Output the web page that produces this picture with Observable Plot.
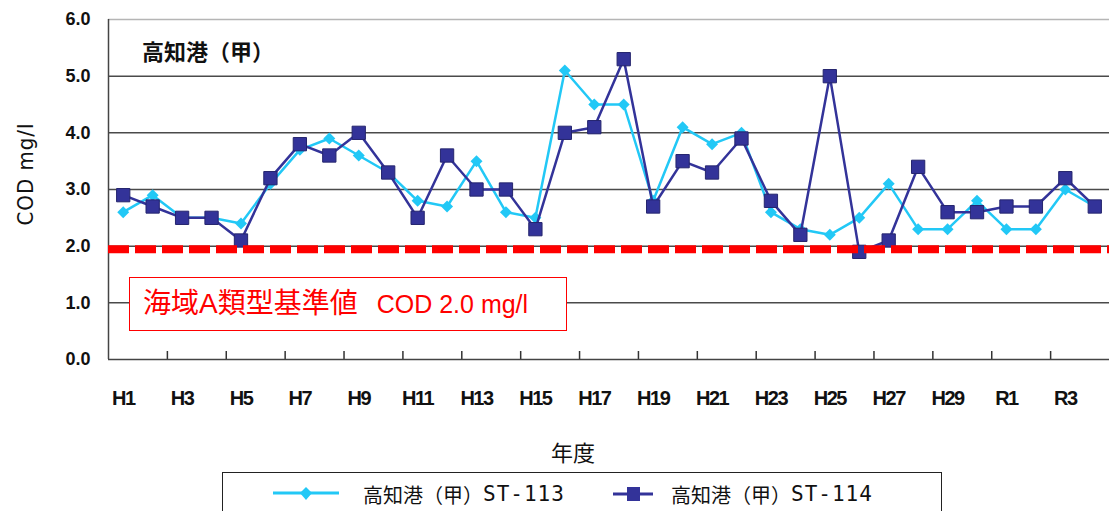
<!DOCTYPE html>
<html>
<head>
<meta charset="utf-8">
<script src="https://cdn.jsdelivr.net/npm/d3@7"></script>
<script src="https://cdn.jsdelivr.net/npm/@observablehq/plot@0.6"></script>
<style>
  body { margin: 0; background: #fff; }
  #wrap { position: relative; width: 1109px; height: 511px; overflow: hidden; background: #fff; font-family: "Noto Sans CJK JP", sans-serif; }
  #chart { position: absolute; left: 0; top: 0; }
  .cc g[aria-label="y-axis tick label"] text { font: bold 18px "Liberation Sans", Arial, sans-serif; }
  .cc g[aria-label="x-axis tick label"] text { font: bold 20px "Liberation Sans", Arial, sans-serif; letter-spacing: -1.5px; }
  #ylab { position: absolute; left: 26px; top: 174px; transform: translate(-50%, -50%) rotate(-90deg); font: 22px "DejaVu Sans Condensed", "DejaVu Sans", sans-serif; font-stretch: condensed; letter-spacing: 1px; line-height: 24px; color: #111; white-space: nowrap; }
  #title { position: absolute; left: 142px; top: 36px; font: bold 22px "Noto Sans CJK JP", sans-serif; line-height: 28px; color: #111; white-space: nowrap; }
  #std { position: absolute; left: 129px; top: 277px; width: 423px; height: 52px; border: 1.5px solid #ff0000; background: #fff; color: #ff0000; font: 25px "Liberation Sans", "Noto Sans CJK JP", sans-serif; line-height: 52px; padding-left: 13px; box-sizing: content-box; white-space: nowrap; }
  #std .cjk { font-size: 28px; }
  #std .sp { display: inline-block; width: 19px; }
  #xlab { position: absolute; left: 551px; top: 437px; font: 22px "Noto Sans CJK JP", sans-serif; line-height: 28px; color: #111; white-space: nowrap; }
  #legend { position: absolute; left: 222px; top: 472px; width: 718px; height: 60px; border: 1.5px solid #222; background: #fff; }
  .item { position: absolute; top: 4px; height: 34px; display: flex; align-items: center; font: 20px "Noto Sans CJK JP", sans-serif; color: #111; white-space: nowrap; }
  .item .lat { font: 21px "DejaVu Sans Mono", monospace; letter-spacing: 1px; }
</style>
</head>
<body>
<div id="wrap">
  <div id="chart"></div>
  <div id="ylab"></div>
  <div id="title"></div>
  <div id="std"></div>
  <div id="xlab"></div>
  <div id="legend"></div>
</div>
<script>
const categories = ["H1","H2","H3","H4","H5","H6","H7","H8","H9","H10",
  "H11","H12","H13","H14","H15","H16","H17","H18","H19","H20",
  "H21","H22","H23","H24","H25","H26","H27","H28","H29","H30",
  "R1","R2","R3","R4"];
const st113 = [2.6,2.9,2.5,2.5,2.4,3.1,3.7,3.9,3.6,3.3,
  2.8,2.7,3.5,2.6,2.5,5.1,4.5,4.5,2.8,4.1,
  3.8,4.0,2.6,2.3,2.2,2.5,3.1,2.3,2.3,2.8,
  2.3,2.3,3.0,2.7];
const st114 = [2.9,2.7,2.5,2.5,2.1,3.2,3.8,3.6,4.0,3.3,
  2.5,3.6,3.0,3.0,2.3,4.0,4.1,5.3,2.7,3.5,
  3.3,3.9,2.8,2.2,5.0,1.9,2.1,3.4,2.6,2.6,
  2.7,2.7,3.2,2.7];
const stationPrefix = "高知港（甲）";
const stationCodes = ["ST-113", "ST-114"];
const chartTitle = "高知港（甲）";
const yLabel = "COD mg/l";
const xLabel = "年度";
const standardLabelJa = "海域A類型基準値";
const standardLabelEn = "COD 2.0 mg/l";
const standard = [2.0];
const yTicks = [0, 1, 2, 3, 4, 5, 6];

const c113 = "#22c8f6";
const c114 = "#333399";

const rows113 = st113.map((v, i) => ({i, v}));
const rows114 = st114.map((v, i) => ({i, v}));
const labelIdx = categories.map((_, i) => i).filter(i => i % 2 === 0);
const tickIdx = categories.map((_, i) => i + 0.5).filter(t => Math.floor(t) % 2 === 1 && t < categories.length - 1);
const xDomain = [-0.5, categories.length - 0.5];
const yDomain = [yTicks[0], yTicks[yTicks.length - 1]];

const chart = Plot.plot({
  width: 1109,
  height: 430,
  marginLeft: 108,
  marginRight: 0,
  marginTop: 19,
  marginBottom: 71,
  className: "cc",
  style: {background: "transparent", color: "#111", overflow: "visible"},
  x: {type: "linear", domain: xDomain, label: null},
  y: {domain: yDomain, label: null},
  marks: [
    Plot.ruleY(yTicks.filter(t => t > yDomain[0] && t < yDomain[1]), {stroke: "#4a4a4a", strokeWidth: 1.5}),
    Plot.ruleY([yDomain[1]], {stroke: "#b5b5b5", strokeWidth: 1.5}),
    Plot.axisY({ticks: yTicks, tickFormat: d3.format(".1f"), tickSize: 0, tickPadding: 18, label: null}),
    Plot.axisX({ticks: labelIdx, tickFormat: i => categories[i], tickSize: 0, tickPadding: 31, label: null}),
    Plot.axisX({ticks: tickIdx, tickFormat: () => "", tickSize: 8, dy: -8, label: null, stroke: "#333", strokeWidth: 1.5}),
    Plot.ruleX([xDomain[0]], {stroke: "#444", strokeWidth: 1.5}),
    Plot.ruleY([yDomain[0]], {stroke: "#444", strokeWidth: 1.5}),
    Plot.line(rows113, {x: "i", y: "v", stroke: c113, strokeWidth: 2.5}),
    Plot.dot(rows113, {x: "i", y: "v", symbol: "diamond2", r: 5.4, fill: c113}),
    Plot.line(rows114, {x: "i", y: "v", stroke: c114, strokeWidth: 2.5}),
    Plot.dot(rows114, {x: "i", y: "v", symbol: "square", r: 7.5, fill: c114, stroke: "#25256e", strokeWidth: 1}),
    Plot.ruleY(standard, {stroke: "#ff0000", strokeWidth: 8, strokeDasharray: "21,6", dy: 3})
  ]
});
document.getElementById("chart").appendChild(chart);

document.getElementById("ylab").textContent = yLabel;
document.getElementById("title").textContent = chartTitle;
document.getElementById("xlab").textContent = xLabel;
document.getElementById("std").innerHTML = `<span class="cjk">${standardLabelJa}</span><span class="sp"></span>${standardLabelEn}`;

const legend = document.getElementById("legend");
const sw1 = `<svg width="66" height="20" style="margin-right:24px"><line x1="0" y1="9" x2="66" y2="9" stroke="${c113}" stroke-width="3"/><polygon points="33,3 39,9 33,16 27,9" fill="${c113}"/></svg>`;
const sw2 = `<svg width="40" height="20" style="margin-right:18px"><line x1="0" y1="10" x2="40" y2="10" stroke="${c114}" stroke-width="3"/><rect x="14" y="3" width="13" height="14" fill="${c114}"/></svg>`;
const it1 = document.createElement("div");
it1.className = "item"; it1.style.left = "50px";
it1.innerHTML = sw1 + `<span>${stationPrefix}</span><span class="lat">${stationCodes[0]}</span>`;
const it2 = document.createElement("div");
it2.className = "item"; it2.style.left = "390px";
it2.innerHTML = sw2 + `<span>${stationPrefix}</span><span class="lat">${stationCodes[1]}</span>`;
legend.appendChild(it1); legend.appendChild(it2);
</script>
</body>
</html>
